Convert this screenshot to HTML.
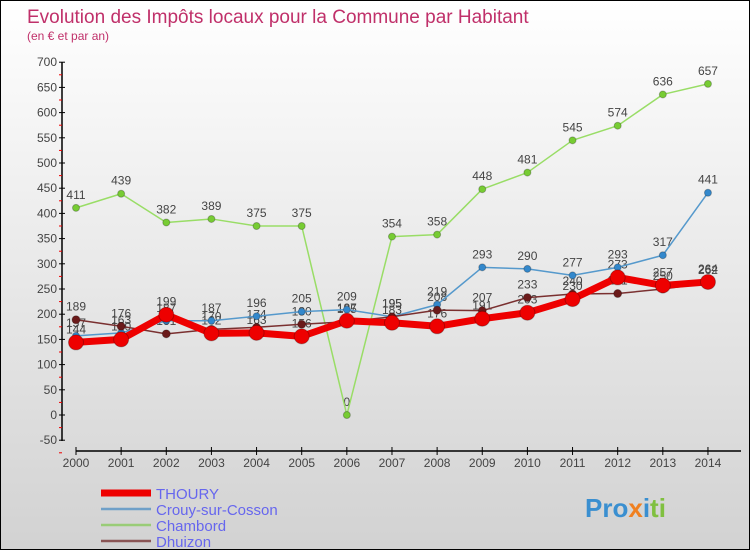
<!DOCTYPE html>
<html><head><meta charset="utf-8"><style>
body{margin:0}
#c{width:748px;height:548px;border:1px solid #000;background:linear-gradient(#ffffff,#d2d2d2);position:relative;overflow:hidden;font-family:"Liberation Sans",sans-serif}
</style></head><body>
<div id="c">
<svg width="748" height="548" id="svg">
<text x="26" y="22" font-size="19" fill="#c0306a">Evolution des Impôts locaux pour la Commune par Habitant</text>
<text x="26" y="39" font-size="12" fill="#c0306a">(en € et par an)</text>
<g id="axes"></g><g id="series"></g><g id="legend"></g>
<text x="584" y="516" font-size="26" font-weight="bold" fill="#3a8fd0">Pro<tspan fill="#f08020">x</tspan><tspan fill="#3a8fd0">i</tspan><tspan fill="#80c040">ti</tspan></text>
</svg>
</div>
<script>
const years=[2000,2001,2002,2003,2004,2005,2006,2007,2008,2009,2010,2011,2012,2013,2014];
const yTicks=[-50,0,50,100,150,200,250,300,350,400,450,500,550,600,650,700];
const thoury=[144,150,199,162,163,156,187,183,176,191,203,230,273,257,264];
const crouy=[157,163,187,187,196,205,209,195,219,293,290,277,293,317,441];
const chambord=[411,439,382,389,375,375,0,354,358,448,481,545,574,636,657];
const dhuizon=[189,176,161,170,174,180,185,195,208,207,233,240,241,250,262];
const NS="http://www.w3.org/2000/svg";
function xS(i){return 75+i*45.14;}
function yS(v){return 414-v*0.504;}
function mk(t,a,p){const e=document.createElementNS(NS,t);for(const k in a)e.setAttribute(k,a[k]);p.appendChild(e);return e;}
const ax=document.getElementById('axes');
let l=mk('line',{x1:61,y1:61,x2:61,y2:440,stroke:'#000','stroke-width':1.5},ax);


yTicks.forEach(v=>{
 mk('line',{x1:58,y1:yS(v),x2:64,y2:yS(v),stroke:'#000'},ax);
 mk('line',{x1:58,y1:yS(v)+12.6,x2:61,y2:yS(v)+12.6,stroke:'#e00'},ax);
 const t=mk('text',{x:56,y:yS(v)+4,'font-size':12,fill:'#444','text-anchor':'end'},ax);
 t.textContent=v;
 
 
});
l=mk('line',{x1:75,y1:450,x2:740,y2:450,stroke:'#000','stroke-width':1.5},ax);


years.forEach((y,i)=>{
 mk('line',{x1:xS(i),y1:446,x2:xS(i),y2:454,stroke:'#000'},ax);
 const t=mk('text',{x:xS(i),y:466,'font-size':12,fill:'#444','text-anchor':'middle'},ax);
 t.textContent=y;
 
 
});
const sg=document.getElementById('series');
const defs=[
 [chambord,'#99dd66','#77cc33',1.5,3.5,'chambord'],
 [crouy,'#5599cc','#3388cc',1.5,3.5,'crouy-sur-cosson'],
 [dhuizon,'#7a3030','#6b1a1a',1.5,4,'dhuizon'],
 [thoury,'#ee0000','#ee0000',7,7.5,'thoury']];
const labG=mk('g',{},sg);
defs.forEach(([d,c,mc,w,r,n])=>{
 const g=mk('g',{},sg);
 
 
 const p=mk('polyline',{points:d.map((v,i)=>xS(i)+','+yS(v)).join(' '),fill:'none',stroke:c,'stroke-width':w,'stroke-linejoin':'round'},g);
 
 
 d.forEach((v,i)=>{
  const ci=mk('circle',{cx:xS(i),cy:yS(v),r:r,fill:mc,stroke:'rgba(0,0,0,0.25)'},g);
  
  
  const t=mk('text',{x:xS(i),y:yS(v)-9,'font-size':12,fill:'#444','text-anchor':'middle'},labG);
  t.textContent=v;
  
  
 });
});
const lg=document.getElementById('legend');
const legs=[['THOURY','#ee0000',7],['Crouy-sur-Cosson','#6fa0c8',2.5],['Chambord','#99cc77',2.5],['Dhuizon','#8a5555',2.5]];
legs.forEach(([n,c,w],i)=>{
 const y=492+i*16;
 const g=mk('g',{},lg);
 
 
 mk('line',{x1:100,y1:y,x2:150,y2:y,stroke:c,'stroke-width':w},g);
 const t=mk('text',{x:155,y:y+6,'font-size':15,fill:'#6666ee'},g);
 t.textContent=n;
});
</script>
</body></html>
